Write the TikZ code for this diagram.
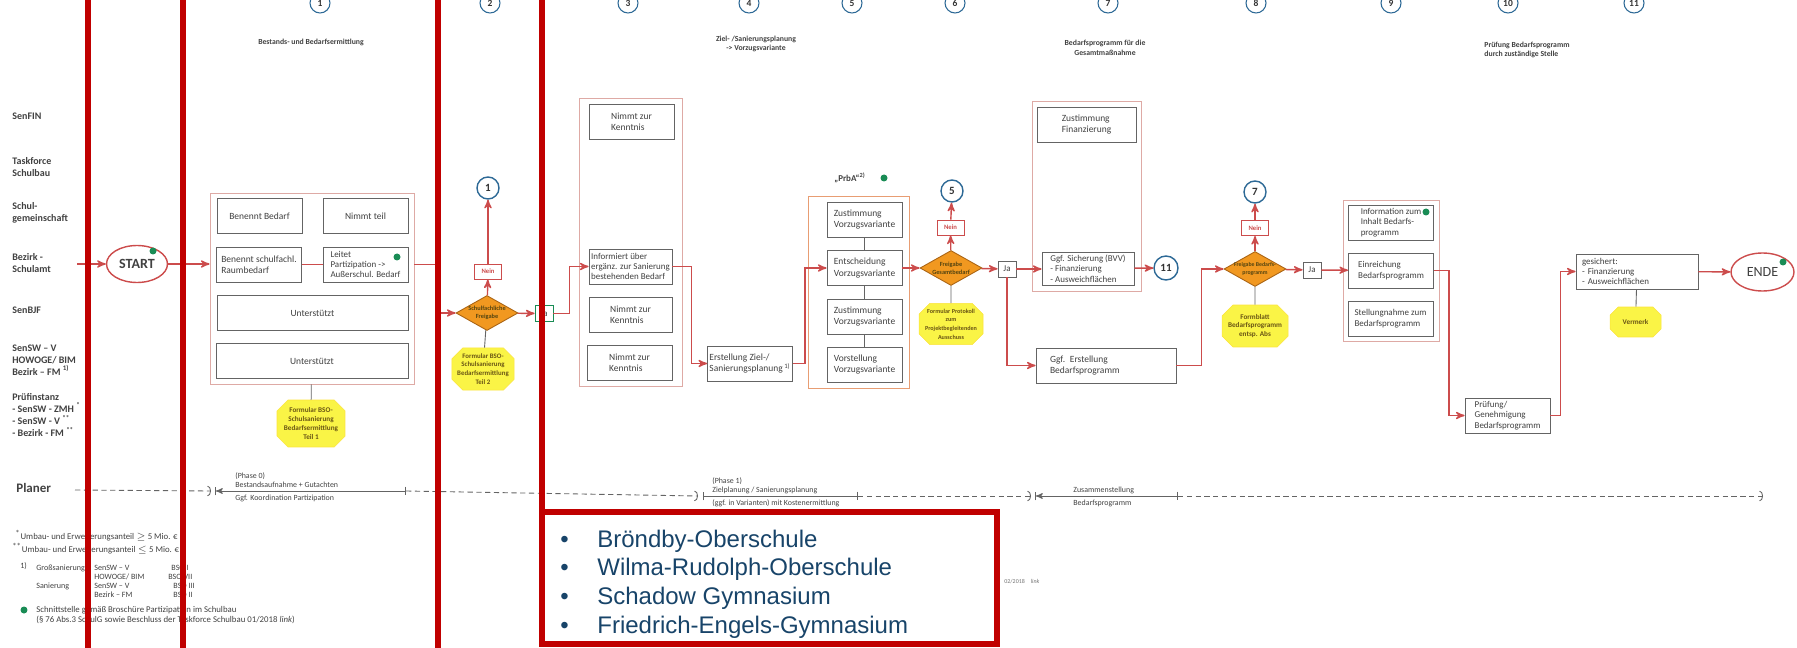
\documentclass[tikz,border=0pt]{standalone}
\usepackage{fontspec}
\setmainfont{Carlito}
\newfontfamily\listfont{Liberation Sans}
\usepackage{tikz}
\usetikzlibrary{arrows,arrows.meta,positioning,shapes.geometric,shapes.misc}

\definecolor{flowred}{RGB}{204,76,76}
\definecolor{barred}{RGB}{192,0,0}
\definecolor{boxgray}{RGB}{100,100,100}
\definecolor{grpred}{RGB}{222,170,165}
\definecolor{gateorange}{RGB}{241,152,32}
\definecolor{gateedge}{RGB}{170,100,20}
\definecolor{noteyellow}{RGB}{250,244,70}
\definecolor{notetext}{RGB}{105,85,20}
\definecolor{numblue}{RGB}{45,105,150}
\definecolor{dotgreen}{RGB}{25,140,85}
\definecolor{textgray}{RGB}{65,65,65}
\definecolor{listblue}{RGB}{24,68,105}

\newcommand{\pxfont}[2]{\fontsize{#1}{#2}\selectfont}

\begin{document}
\begin{tikzpicture}[x=0.02cm,y=-0.02cm,>=stealth',
  box/.style={rectangle,draw=boxgray,line width=0.5pt,fill=white,inner sep=1pt,minimum width=1.7cm,minimum height=0.7cm,align=left,text=textgray,font=\pxfont{5.4}{6.5}},
  smallbox/.style={box,inner sep=0.5pt,font=\pxfont{5.1}{5.9}},
  group/.style={rectangle,draw=grpred,line width=0.5pt,inner sep=0pt},
  gate/.style={diamond,draw=gateedge,fill=gateorange,line width=0.5pt,inner sep=0pt,minimum width=1.24cm,minimum height=0.7cm},
  gatetext/.style={font=\pxfont{3.6}{4.4}\bfseries,text=notetext!80!black,align=center,inner sep=0pt},
  note/.style={chamfered rectangle,chamfered rectangle xsep=3pt,fill=noteyellow,draw=noteyellow!85!orange,line width=0.3pt,inner sep=0pt,align=center,text=notetext,font=\pxfont{4.1}{5.1}\bfseries},
  nein/.style={rectangle,draw=flowred,line width=0.5pt,fill=white,text=flowred,font=\pxfont{3.8}{4.5}\bfseries,inner sep=0pt,minimum width=0.54cm,minimum height=0.3cm},
  ja/.style={rectangle,draw=boxgray,line width=0.5pt,fill=white,text=textgray,font=\pxfont{5.1}{6},inner sep=0pt,minimum width=0.36cm,minimum height=0.32cm},
  num/.style={circle,draw=numblue,line width=0.8pt,fill=white,inner sep=0pt,minimum size=0.44cm,text=black!80,font=\pxfont{6.3}{7}\bfseries},
  headnum/.style={num,minimum size=0.4cm,line width=0.6pt,font=\pxfont{5.4}{6}\bfseries},
  terminal/.style={ellipse,draw=flowred,line width=0.8pt,fill=white,inner sep=0pt,text=textgray},
  dot/.style={circle,fill=dotgreen,inner sep=0pt,minimum size=0.14cm},
  flow/.style={->,draw=flowred,line width=0.8pt},
  tie/.style={-,draw=boxgray,line width=0.5pt},
  lane/.style={anchor=west,align=left,inner sep=0pt,text=textgray,font=\pxfont{5.7}{6.9}\bfseries},
  head/.style={align=center,inner sep=0pt,text=textgray,font=\pxfont{4.4}{5.4}\bfseries},
  phase/.style={anchor=west,align=left,inner sep=0pt,text=textgray,font=\pxfont{4.5}{5.2}},
  foot/.style={anchor=west,align=left,inner sep=0pt,text=textgray,font=\pxfont{5}{5.8}},
  planline/.style={draw=boxgray,line width=0.5pt},
  redbar/.style={draw=barred,line width=2.9pt}]

	\useasboundingbox (0,0) rectangle (1797,648);

	% lanes
	\node [lane] (l1) at (12,116) {SenFIN};
	\node [lane] (l2) at (12,167) {Taskforce\\Schulbau};
	\node [lane] (l3) at (12,213) {Schul-\\gemeinschaft};
	\node [lane] (l4) at (12,263) {Bezirk -\\Schulamt};
	\node [lane] (l5) at (12,310) {SenBJF};
	\node [lane] (l6) at (12,360) {SenSW – V\\HOWOGE/ BIM\\Bezirk – FM \textsuperscript{1)}};
	\node [lane] (l7) at (12,415) {Prüfinstanz\\- SenSW - ZMH \textsuperscript{*}\\- SenSW - V \textsuperscript{**}\\- Bezirk - FM \textsuperscript{**}};
	\node [lane,font=\pxfont{7.4}{8.5}\bfseries] (l8) at (16,488) {Planer};

	% steps
	\node [headnum] (h1) at (320,3) {1};
	\node [headnum] (h2) at (490,3) {2};
	\node [headnum] (h3) at (628,3) {3};
	\node [headnum] (h4) at (749,3) {4};
	\node [headnum] (h5) at (852,3) {5};
	\node [headnum] (h6) at (955,3) {6};
	\node [headnum] (h7) at (1108,3) {7};
	\node [headnum] (h8) at (1256,3) {8};
	\node [headnum] (h9) at (1391,3) {9};
	\node [headnum] (h10) at (1508,3) {10};
	\node [headnum] (h11) at (1634,3) {11};
	\node [head] (t1) at (311,42) {Bestands- und Bedarfsermittlung};
	\node [head] (t2) at (756,44) {Ziel- /Sanierungsplanung\\-> Vorzugsvariante};
	\node [head] (t3) at (1105,48) {Bedarfsprogramm für die\\Gesamtmaßnahme};
	\node [head,align=left] (t4) at (1527,50) {Prüfung Bedarfsprogramm\\durch zuständige Stelle};

	% start
	\coordinate (in0) at (77,264);
	\node [terminal,minimum width=1.22cm,minimum height=0.74cm,font=\pxfont{8}{9}\bfseries] (start) at (137,264) {START};
	\node [dot] (dot0) at (153,251) {};

	\node [group,minimum width=4.08cm,minimum height=3.82cm] (k1) at (312,288.5) {};
	\node [box] (b1) at (259.5,216) {Benennt Bedarf};
	\node [box] (b2) at (365.5,216) {Nimmt teil};
	\node [box] (b3) at (259,264.5) {Benennt schulfachl.\\Raumbedarf};
	\node [smallbox] (b4) at (365.5,264.5) {Leitet\\Partizipation ->\\Außerschul. Bedarf};
	\node [dot] (dot1) at (397,257) {};
	\node [box,minimum width=3.82cm] (b5) at (312.5,313) {Unterstützt};
	\node [box,minimum width=3.84cm] (b6) at (312,361) {Unterstützt};
	\node [note,minimum width=1.36cm,minimum height=0.94cm] (n1) at (311,423.5) {Formular BSO-\\Schulsanierung\\Bedarfsermittlung\\Teil 1};

	\node [gate] (d2) at (487,313) {};
	\node [gatetext] (d2t) at (d2) {Schulfachliche\\Freigabe};
	\node [nein] (nn2) at (488,271.5) {Nein};
	\node [num] (r1) at (488,188) {1};
	\node [note,font=\pxfont{3.9}{5}\bfseries,minimum width=1.16cm,minimum height=0.76cm] (n2) at (483,369) {Formular BSO-\\Schulsanierung\\Bedarfsermittlung\\Teil 2};
	\node [ja,draw=dotgreen] (j2) at (544,313.5) {Ja};

	\node [group,minimum width=2.06cm,minimum height=5.76cm] (k3) at (630.5,242) {};
	\node [box] (c1) at (631.5,122) {Nimmt zur\\Kenntnis};
	\node [smallbox,minimum width=1.66cm] (c2) at (630.5,266.5) {Informiert über\\ergänz. zur Sanierung\\bestehenden Bedarf};
	\node [box,minimum width=1.66cm] (c3) at (630.5,314.5) {Nimmt zur\\Kenntnis};
	\node [box] (c4) at (629.5,362.5) {Nimmt zur\\Kenntnis};
	\node [box,minimum width=1.68cm] (e1) at (750,363.5) {Erstellung Ziel-/\\Sanierungsplanung\,\textsuperscript{1)}};

	\node [inner sep=0pt,text=textgray,font=\pxfont{5.1}{6}\bfseries] (p1) at (850,178) {„PrbA“\textsuperscript{2)}};
	\node [dot] (dot2) at (884,178) {};
	\node [group,draw=grpred!70!orange,minimum width=2.02cm,minimum height=3.84cm] (k5) at (858.5,292) {};
	\node [box,minimum width=1.5cm] (v1) at (864.5,219.5) {Zustimmung\\Vorzugsvariante};
	\node [box,minimum width=1.5cm] (v2) at (864.5,268) {Entscheidung\\Vorzugsvariante};
	\node [box,minimum width=1.5cm] (v3) at (864.5,316.5) {Zustimmung\\Vorzugsvariante};
	\node [box,minimum width=1.5cm] (v4) at (864.5,364.5) {Vorstellung\\Vorzugsvariante};

	\node [gate] (d6) at (951,268) {};
	\node [gatetext] (d6t) at (d6) {Freigabe\\Gesamtbedarf};
	\node [nein] (nn6) at (950.5,227.5) {Nein};
	\node [num] (r5) at (952,191) {5};
	\node [note,font=\pxfont{3.5}{4.9}\bfseries,minimum width=1.28cm,minimum height=0.76cm] (n3) at (951,324) {Formular Protokoll\\zum\\Projektbegleitenden\\Ausschuss};
	\node [ja] (j6) at (1007,269) {Ja};

	\node [group,minimum width=2.18cm,minimum height=3.8cm] (k7) at (1086.5,196) {};
	\node [box,minimum width=1.98cm] (f1) at (1086.5,124.5) {Zustimmung\\Finanzierung};
	\node [smallbox,minimum width=1.84cm,minimum height=0.66cm] (f2) at (1088,268.5) {Ggf. Sicherung (BVV)\\- Finanzierung\\- Ausweichflächen};
	\node [num,minimum size=0.48cm] (r11) at (1166,268) {11};
	\node [box,text width=2.24cm,inner xsep=0.28cm] (eb) at (1106,365.5) {Ggf. Erstellung\\Bedarfsprogramm};

	\node [gate] (d8) at (1255,269) {};
	\node [gatetext,font=\pxfont{3.3}{4.4}\bfseries] (d8t) at (d8) {Freigabe Bedarfs-\\programm};
	\node [nein] (nn8) at (1255,228) {Nein};
	\node [num] (r7) at (1255,192) {7};
	\node [note,minimum width=1.32cm,minimum height=0.84cm] (n4) at (1255,326) {Formblatt\\Bedarfsprogramm\\entsp. Abs};
	\node [ja] (j8) at (1312,270) {Ja};

	\node [group,minimum width=1.92cm,minimum height=2.82cm] (k9) at (1391,270.5) {};
	\node [smallbox] (i1) at (1391,222.5) {Information zum\\Inhalt Bedarfs-\\programm};
	\node [dot] (dot3) at (1426,212) {};
	\node [smallbox] (i2) at (1391,270.5) {Einreichung\\Bedarfsprogramm};
	\node [smallbox] (i3) at (1390.5,318.5) {Stellungnahme zum\\Bedarfsprogramm};
	\node [smallbox] (pg) at (1507.5,415.5) {Prüfung/\\Genehmigung\\Bedarfsprogramm};
	\node [smallbox,text width=2.2cm,inner xsep=0.12cm] (gs) at (1637,271.5) {gesichert:\\- Finanzierung\\- Ausweichflächen};
	\node [note,minimum width=1.02cm,minimum height=0.6cm] (n5) at (1635.5,322) {Vermerk};
	\node [terminal,minimum width=1.26cm,minimum height=0.76cm,font=\pxfont{8}{9}] (ende) at (1762.5,272) {ENDE};
	\node [dot] (dot4) at (1783,262) {};

	\draw [flow] (in0) -- (start);
	\draw [flow] (start) -- (start -| k1.west);
	\draw [flowred,line width=0.6pt] (b3) -- (b4);
	\draw [tie] (k1) -- (n1);
	\draw [flow] (k1.east |- b4) -- ++(21,0) |- (d2.west);
	\draw [flow] (d2) -- (nn2);
	\draw [flow] (nn2) -- (r1);
	\draw [tie] (d2) -- (n2);
	\draw [flow] (d2) -- (j2);
	\draw [flow] (j2.east) -- ++(16,0) |- (c2.west);
	\draw [flow] (c2.east) -- ++(19,0) |- (e1.west);
	\draw [flow] (e1.east) -- ++(12,0) |- (v2.west);
	\draw [tie] (v1) -- (v2);
	\draw [tie] (v2) -- (v3);
	\draw [tie] (v3) -- (v4);
	\draw [flow] (v2) -- (d6);
	\draw [flow] (d6) -- (nn6);
	\draw [flow] (nn6) -- (r5);
	\draw [tie] (d6) -- (n3);
	\draw [flow] (d6) -- (j6);
	\draw [flow] (j6.east) -- (j6.east -| f2.west);
	\draw [flow] (j6.south) |- (eb.west);
	\draw [flow] (f2) -- (r11);
	\draw [flow] (eb.east) -- ++(25,0) |- (d8.west);
	\draw [flow] (d8) -- (nn8);
	\draw [flow] (nn8) -- (r7);
	\draw [tie] (d8) -- (n4);
	\draw [flow] (d8) -- (j8);
	\draw [flow] (j8) -- (i2);
	\draw [flow] (i2.east) -- ++(15,0) |- (pg.west);
	\draw [flow] (pg.east) -- ++(10,0) |- (gs.west);
	\draw [flow] (gs) -- (ende);
	\draw [tie] (gs) -- (n5);

	% Planer
	\coordinate (q0) at (75,490);
	\coordinate (q1) at (211,491);
	\coordinate (q2) at (215,491);
	\coordinate (q3) at (406,491);
	\coordinate (q4) at (698,496);
	\coordinate (q5) at (703,496);
	\coordinate (q6) at (858,496);
	\coordinate (q7) at (1031,496);
	\coordinate (q8) at (1035,496);
	\coordinate (q9) at (1178,496);
	\coordinate (q10) at (1763,496);
	\draw [planline,dash pattern=on 3pt off 2pt,-{Arc Barb[length=2pt,width=6pt]}] (q0) -- (q1);
	\draw [planline,|<-|] (q2) -- (q3);
	\draw [planline,dash pattern=on 3pt off 2pt,-{Arc Barb[length=2pt,width=6pt]}] (q3) -- (q4);
	\draw [planline,|-|] (q5) -- (q6);
	\draw [planline,dash pattern=on 3pt off 2pt,-{Arc Barb[length=2pt,width=6pt]}] (q6) -- (q7);
	\draw [planline,|<-|] (q8) -- (q9);
	\draw [planline,dash pattern=on 3pt off 2pt,-{Arc Barb[length=2pt,width=6pt]}] (q9) -- (q10);
	\node [phase] (ph0a) at (235,476) {(Phase 0)};
	\node [phase] (ph0b) at (235,485) {Bestandsaufnahme + Gutachten};
	\node [phase] (ph0c) at (235,498) {Ggf. Koordination Partizipation};
	\node [phase] (ph1a) at (712,481) {(Phase 1)};
	\node [phase] (ph1b) at (712,490) {Zielplanung / Sanierungsplanung};
	\node [phase] (ph1c) at (712,503) {(ggf. in Varianten) mit Kostenermittlung};
	\node [phase] (ph7a) at (1073,490) {Zusammenstellung};
	\node [phase] (ph7b) at (1073,503) {Bedarfsprogramm};

	% footnotes
	\node [foot] (fa) at (15,536) {\textsuperscript{*}Umbau- und Erweiterungsanteil $\geq$ 5 Mio. €};
	\node [foot] (fb) at (12,549) {\textsuperscript{**}Umbau- und Erweiterungsanteil $\leq$ 5 Mio. €};
	\node [foot,font=\pxfont{4.6}{5.4}] (fc) at (20,566) {1)};
	\node [foot,font=\pxfont{4.6}{5.4}] (fd) at (36,568) {Großsanierung};
	\node [foot,font=\pxfont{4.6}{5.4}] (fe) at (94,568) {SenSW – V};
	\node [foot,font=\pxfont{4.6}{5.4}] (ff) at (171,568) {BSO I};
	\node [foot,font=\pxfont{4.6}{5.4}] (fg) at (94,577) {HOWOGE/ BIM};
	\node [foot,font=\pxfont{4.6}{5.4}] (fh) at (168,577) {BSO VII};
	\node [foot,font=\pxfont{4.6}{5.4}] (fi) at (36,586) {Sanierung};
	\node [foot,font=\pxfont{4.6}{5.4}] (fj) at (94,586) {SenSW – V};
	\node [foot,font=\pxfont{4.6}{5.4}] (fk) at (173,586) {BSO III};
	\node [foot,font=\pxfont{4.6}{5.4}] (fl) at (94,595) {Bezirk – FM};
	\node [foot,font=\pxfont{4.6}{5.4}] (fm) at (173,595) {BSO II};
	\node [dot] (dot5) at (24,610) {};
	\node [foot] (fn) at (36,610) {Schnittstelle gemäß Broschüre Partizipation im Schulbau};
	\node [foot] (fo) at (36,620) {(§ 76 Abs.3 SchulG sowie Beschluss der Taskforce Schulbau 01/2018 \textit{link})};
	\node [foot,font=\pxfont{3.4}{4},text=black!55] (fp) at (1004,582) {02/2018\quad\textit{link}};

	% red marks
	\draw [redbar] (88,-5) -- (88,653);
	\draw [redbar] (183,-5) -- (183,653);
	\draw [redbar] (438,-5) -- (438,653);
	\draw [redbar] (542,-5) -- (542,512);
	\draw [redbar,fill=white] (542,512) rectangle (997,644);
	\node [anchor=west,align=left,inner sep=0pt,text=listblue,font=\listfont\pxfont{13.66}{16.3}] (schools) at (560,584) {\makebox[0.74cm][l]{•}Bröndby-Oberschule\\\makebox[0.74cm][l]{•}Wilma-Rudolph-Oberschule\\\makebox[0.74cm][l]{•}Schadow Gymnasium\\\makebox[0.74cm][l]{•}Friedrich-Engels-Gymnasium};
\end{tikzpicture}
\end{document}
